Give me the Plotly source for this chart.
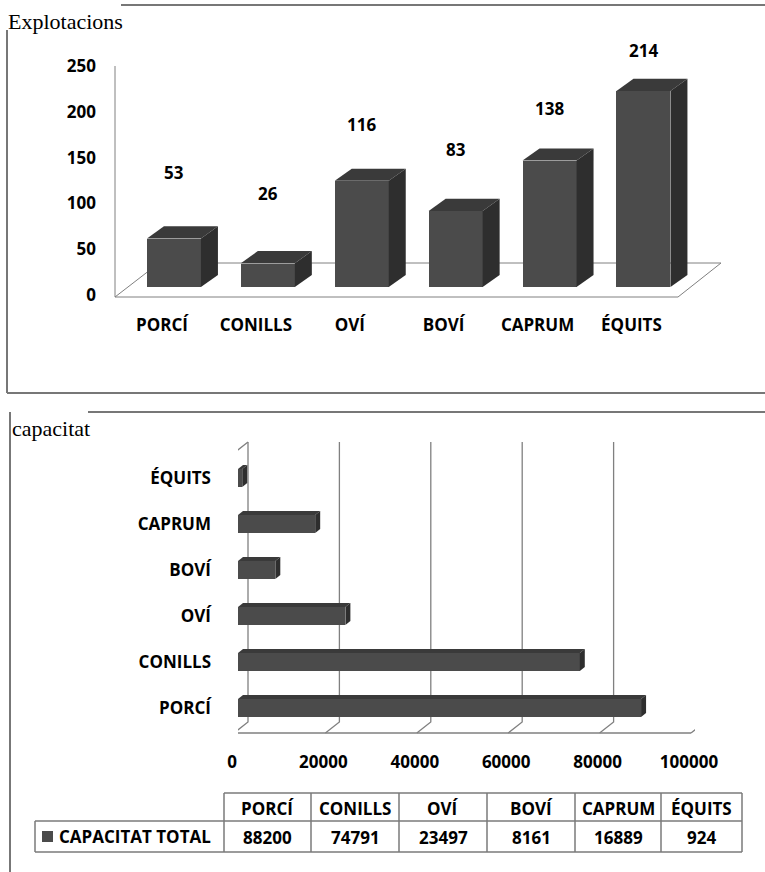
import plotly.graph_objects as go

W, H = 765, 872

# ---------------- DATA ----------------
species = ["PORCÍ", "CONILLS", "OVÍ", "BOVÍ", "CAPRUM", "ÉQUITS"]
explotacions = [53, 26, 116, 83, 138, 214]
capacitat = [88200, 74791, 23497, 8161, 16889, 924]
top_ticks = [0, 50, 100, 150, 200, 250]
bottom_ticks = [0, 20000, 40000, 60000, 80000, 100000]
row_label = "CAPACITAT TOTAL"

FRONT = "#4b4b4b"
TOP = "#3a3a3a"
SIDE = "#2e2e2e"
EDGE = "#808080"

bold = dict(family="Open Sans", size=17, color="black", weight="bold")
serif = dict(family="Liberation Serif", size=22, color="black")


def px(x):
    return x / W


def py(y):
    return 1 - y / H


def note(x, y, text, font=bold, xanchor="center"):
    return dict(x=px(x), y=py(y), xref="paper", yref="paper", text=text,
                showarrow=False, xanchor=xanchor, yanchor="middle", font=font)


fig = go.Figure()
shapes = []
annotations = []

# ---------------- TOP CHART : explotacions ----------------
idx = list(range(len(species)))
bw = 0.575
dx, dy = 0.181, 13.2  # 3d depth in data units

fig.add_trace(go.Bar(
    x=idx, y=explotacions, width=bw,
    marker=dict(color=FRONT, line=dict(width=0)),
    xaxis="x", yaxis="y", showlegend=False
))

for i, v in zip(idx, explotacions):
    x0, x1 = i - bw / 2, i + bw / 2
    shapes.append(dict(
        type="path", xref="x", yref="y", layer="above",
        path=f"M{x0},{v} L{x0+dx},{v+dy} L{x1+dx},{v+dy} L{x1},{v} Z",
        fillcolor=TOP, line=dict(width=0)))
    shapes.append(dict(
        type="path", xref="x", yref="y", layer="above",
        path=f"M{x1},0 L{x1},{v} L{x1+dx},{v+dy} L{x1+dx},{dy} Z",
        fillcolor=SIDE, line=dict(width=0)))
    # labels float higher over short bars (3d perspective of the original)
    annotations.append(dict(
        x=i, y=v + 80.6 - 0.169 * v, xref="x", yref="y", text=str(v),
        showarrow=False, xanchor="center", yanchor="middle", font=bold))

# floor and back axis line
shapes.append(dict(
    type="path", xref="paper", yref="paper", layer="below",
    path=f"M{px(115)},{py(297)} L{px(159)},{py(263)} L{px(721)},{py(263)} "
         f"L{px(678)},{py(297)} Z",
    line=dict(color=EDGE, width=1)))
shapes.append(dict(type="line", xref="paper", yref="paper", layer="below",
                   x0=px(115), x1=px(115), y0=py(66), y1=py(297),
                   line=dict(color=EDGE, width=1)))

# ---------------- BOTTOM CHART : capacitat ----------------
bh = 0.39
hdx, hdy = 1094, 0.086
back_off, front_off = 2188, 875  # depth of the grid walls (10px back, 4px front)

fig.add_trace(go.Bar(
    x=capacitat, y=idx, width=bh, orientation="h",
    marker=dict(color=FRONT, line=dict(width=0)),
    xaxis="x2", yaxis="y2", showlegend=False
))

for i, v in zip(idx, capacitat):
    y0, y1 = i - bh / 2, i + bh / 2
    shapes.append(dict(
        type="path", xref="x2", yref="y2", layer="above",
        path=f"M0,{y1} L{hdx},{y1+hdy} L{v+hdx},{y1+hdy} L{v},{y1} Z",
        fillcolor=TOP, line=dict(width=0)))
    shapes.append(dict(
        type="path", xref="x2", yref="y2", layer="above",
        path=f"M{v},{y0} L{v},{y1} L{v+hdx},{y1+hdy} L{v+hdx},{y0+hdy} Z",
        fillcolor=SIDE, line=dict(width=0)))

for t in bottom_ticks:
    shapes.append(dict(
        type="path", xref="x2", yref="paper", layer="below",
        path=f"M{t+back_off},{py(442)} L{t+back_off},{py(722)} L{t-front_off},{py(733)}",
        line=dict(color=EDGE, width=1.3)))
t0, t1 = bottom_ticks[0], bottom_ticks[-1]
shapes.append(dict(
    type="path", xref="x2", yref="paper", layer="below",
    path=f"M{t0+back_off},{py(442)} L{t0-front_off},{py(453)} "
         f"L{t0-front_off},{py(733)} L{t1-front_off},{py(733)}",
    line=dict(color=EDGE, width=1.3)))

# ---------------- TABLE ----------------
cols = [224, 311, 399, 487, 575, 661, 742]
r0, r1, r2 = 793, 821, 852
TL = dict(color="#7a7a7a", width=1.5)
shapes.append(dict(type="line", xref="paper", yref="paper",
                   x0=px(cols[0]), x1=px(cols[-1]), y0=py(r0), y1=py(r0), line=TL))
for r in (r1, r2):
    shapes.append(dict(type="line", xref="paper", yref="paper",
                       x0=px(35), x1=px(cols[-1]), y0=py(r), y1=py(r), line=TL))
shapes.append(dict(type="line", xref="paper", yref="paper",
                   x0=px(35), x1=px(35), y0=py(r1), y1=py(r2), line=TL))
for c in cols:
    shapes.append(dict(type="line", xref="paper", yref="paper",
                       x0=px(c), x1=px(c), y0=py(r0), y1=py(r2), line=TL))

for k, (name, val) in enumerate(zip(species, capacitat)):
    cx = (cols[k] + cols[k + 1]) / 2
    annotations.append(note(cx, (r0 + r1) / 2 + 1, name))
    annotations.append(note(cx, (r1 + r2) / 2 + 1, str(val)))

shapes.append(dict(type="rect", xref="paper", yref="paper",
                   x0=px(42), x1=px(53), y0=py(842), y1=py(831),
                   fillcolor=FRONT, line=dict(width=0)))
annotations.append(note(57, (r1 + r2) / 2, row_label, xanchor="left"))

# ---------------- PANEL FRAMES AND TITLES ----------------
FL = dict(color="#777777", width=2)
for (a, b, c, d) in [(121, 5, 765, 5), (7, 30, 7, 393), (7, 393, 765, 393),
                     (88, 412, 765, 412), (10, 412, 10, 872)]:
    shapes.append(dict(type="line", xref="paper", yref="paper",
                       x0=px(a), y0=py(b), x1=px(c), y1=py(d), line=FL))

annotations.append(note(6, 21, "Explotacions", font=serif, xanchor="left"))
annotations.append(note(10, 428, "capacitat", font=serif, xanchor="left"))

fig.update_layout(
    width=W, height=H,
    margin=dict(l=0, r=0, t=0, b=0, autoexpand=False),
    paper_bgcolor="white",
    plot_bgcolor="rgba(0,0,0,0)",
    bargap=0,
    showlegend=False,
    shapes=shapes,
    annotations=annotations,
    xaxis=dict(domain=[px(127), px(690.4)], range=[-0.5, 5.5], anchor="y",
               tickvals=idx, ticktext=species, showgrid=False, zeroline=False,
               showline=False, ticks="", tickfont=bold, automargin=False,
               ticklabelstandoff=26, ticklabelshift=-12),
    yaxis=dict(domain=[py(287), py(30.5)], range=[0, 280], anchor="free",
               position=px(115), tickvals=top_ticks, showgrid=False,
               zeroline=False, showline=False, ticks="", tickfont=bold,
               automargin=False, ticklabelstandoff=19, ticklabelshift=8),
    xaxis2=dict(domain=[px(238), px(695)], range=[0, 100000], anchor="y2",
                tickvals=bottom_ticks, ticktext=[str(t) for t in bottom_ticks],
                showgrid=False, zeroline=False, showline=False, ticks="",
                tickfont=bold, automargin=False,
                ticklabelstandoff=19, ticklabelshift=-6),
    yaxis2=dict(domain=[py(731), py(455)], range=[-0.5, 5.5], anchor="x2",
                tickvals=idx, ticktext=species, showgrid=False, zeroline=False,
                showline=False, ticks="", tickfont=bold, automargin=False,
                ticklabelstandoff=26),
)

# the page body has a default 8px margin; drop it so the figure fills the window
fig.write_html("out.html", config={"displayModeBar": False},
               post_script="document.body.style.margin='0';")
